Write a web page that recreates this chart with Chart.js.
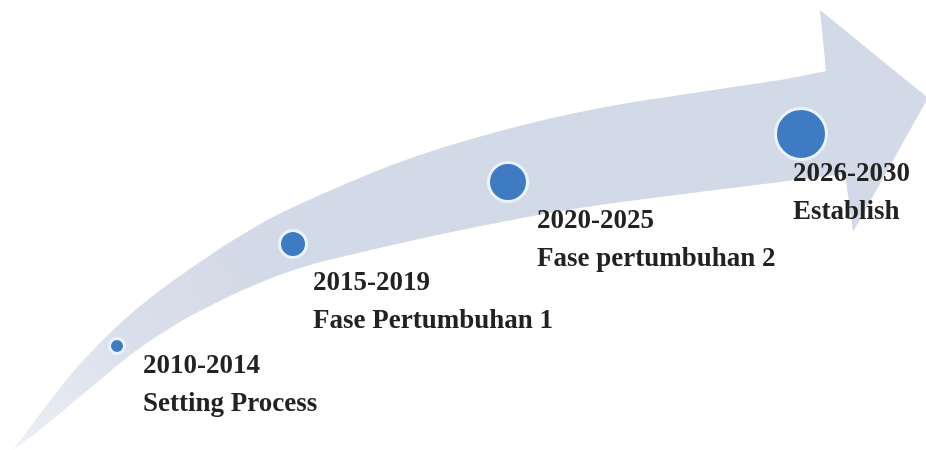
<!DOCTYPE html>
<html>
<head>
<meta charset="utf-8">
<script src="https://cdn.jsdelivr.net/npm/chart.js@4/dist/chart.umd.min.js"></script>
<style>
  html, body { margin: 0; padding: 0; background: #ffffff; }
  #wrap { width: 926px; height: 450px; }
</style>
</head>
<body>
<div id="wrap"><canvas id="c" width="926" height="450"></canvas></div>
<script>
// ---- Roadmap data ----
const periods = ['2010-2014', '2015-2019', '2020-2025', '2026-2030'];
const phases = ['Setting Process', 'Fase Pertumbuhan 1', 'Fase pertumbuhan 2', 'Establish'];
const progress = [117, 293, 508, 801];   // position along the timeline (x value)
const level = [104, 206, 268, 316];      // growth level (y value)
const stage = [1, 2, 3, 4];              // phase stage -> marker size

// ---- Swoosh arrow outline (in the same x / y value space) ----
const arrowUpperX = [13, 43, 73, 110, 150, 200, 250, 300, 400, 500, 600, 700, 780, 826];
const arrowUpperY = [0, 40, 78, 117, 152, 188, 220, 246, 288, 319, 342, 358, 370, 379];
const arrowHeadX = [826, 820, 928, 853, 845];
const arrowHeadY = [379, 440, 352, 218, 276];
const arrowLowerX = [13, 40, 70, 100, 133, 167, 200, 250, 300, 350, 433, 533, 600, 700, 780, 845];
const arrowLowerY = [0, 20, 45, 70, 97, 120, 139, 163, 182, 195, 214, 234, 245, 258, 268, 276];

const points = progress.map((x, i) => ({ x: x, y: level[i] }));

function smoothThrough(ctx, pts, moveFirst) {
  if (moveFirst) ctx.moveTo(pts[0].x, pts[0].y); else ctx.lineTo(pts[0].x, pts[0].y);
  for (let i = 0; i < pts.length - 1; i++) {
    const p0 = pts[i - 1] || pts[i];
    const p1 = pts[i];
    const p2 = pts[i + 1];
    const p3 = pts[i + 2] || p2;
    const c1x = p1.x + (p2.x - p0.x) / 6, c1y = p1.y + (p2.y - p0.y) / 6;
    const c2x = p2.x - (p3.x - p1.x) / 6, c2y = p2.y - (p3.y - p1.y) / 6;
    ctx.bezierCurveTo(c1x, c1y, c2x, c2y, p2.x, p2.y);
  }
}

const arrowPlugin = {
  id: 'swooshArrow',
  beforeDatasetsDraw(chart) {
    const { ctx, scales: { x, y } } = chart;
    const px = (vx, vy) => ({ x: x.getPixelForValue(vx), y: y.getPixelForValue(vy) });
    const upper = arrowUpperX.map((v, i) => px(v, arrowUpperY[i]));
    const head = arrowHeadX.map((v, i) => px(v, arrowHeadY[i]));
    const lower = arrowLowerX.map((v, i) => px(v, arrowLowerY[i])).reverse();
    ctx.save();
    const a = px(0, 0), b = px(260, 180);
    const g = ctx.createLinearGradient(a.x, a.y, b.x, b.y);
    g.addColorStop(0, '#eef1f6');
    g.addColorStop(0.55, '#d9dfea');
    g.addColorStop(1, '#d3dae7');
    ctx.fillStyle = g;
    ctx.beginPath();
    smoothThrough(ctx, upper, true);
    head.forEach(p => ctx.lineTo(p.x, p.y));
    smoothThrough(ctx, lower, false);
    ctx.closePath();
    ctx.fill();
    ctx.restore();
  }
};

const labelPlugin = {
  id: 'phaseLabels',
  afterDatasetsDraw(chart, args, opts) {
    const { ctx } = chart;
    const meta = chart.getDatasetMeta(0);
    ctx.save();
    ctx.font = opts.font;
    ctx.fillStyle = opts.color;
    ctx.textAlign = 'left';
    ctx.textBaseline = 'alphabetic';
    meta.data.forEach((el, i) => {
      const off = opts.offsets[i];
      ctx.fillText(periods[i], el.x + off[0], el.y + off[1]);
      ctx.fillText(phases[i], el.x + off[0], el.y + off[1] + opts.lineGap);
    });
    ctx.restore();
  }
};

new Chart(document.getElementById('c'), {
  type: 'scatter',
  data: {
    datasets: [{
      label: 'Roadmap',
      data: points,
      backgroundColor: '#3f7bc3',
      borderColor: '#eaf3fc',
      borderWidth: 3,
      pointRadius: (c) => 1.5 + 6 * stage[c.dataIndex],
      pointHoverRadius: (c) => 1.5 + 6 * stage[c.dataIndex],
      showLine: false,
      clip: false
    }]
  },
  options: {
    responsive: false,
    animation: false,
    events: [],
    layout: { padding: 0, autoPadding: false },
    scales: {
      x: { type: 'linear', min: 0, max: 926, display: false },
      y: { type: 'linear', min: 0, max: 450, display: false }
    },
    plugins: {
      legend: { display: false },
      tooltip: { enabled: false },
      phaseLabels: {
        font: 'bold 27px "Liberation Serif", "Times New Roman", serif',
        color: '#222222',
        lineGap: 38,
        offsets: [[26, 27], [20, 46], [29, 46], [-8, 47]]
      }
    }
  },
  plugins: [arrowPlugin, labelPlugin]
});
</script>
</body>
</html>
